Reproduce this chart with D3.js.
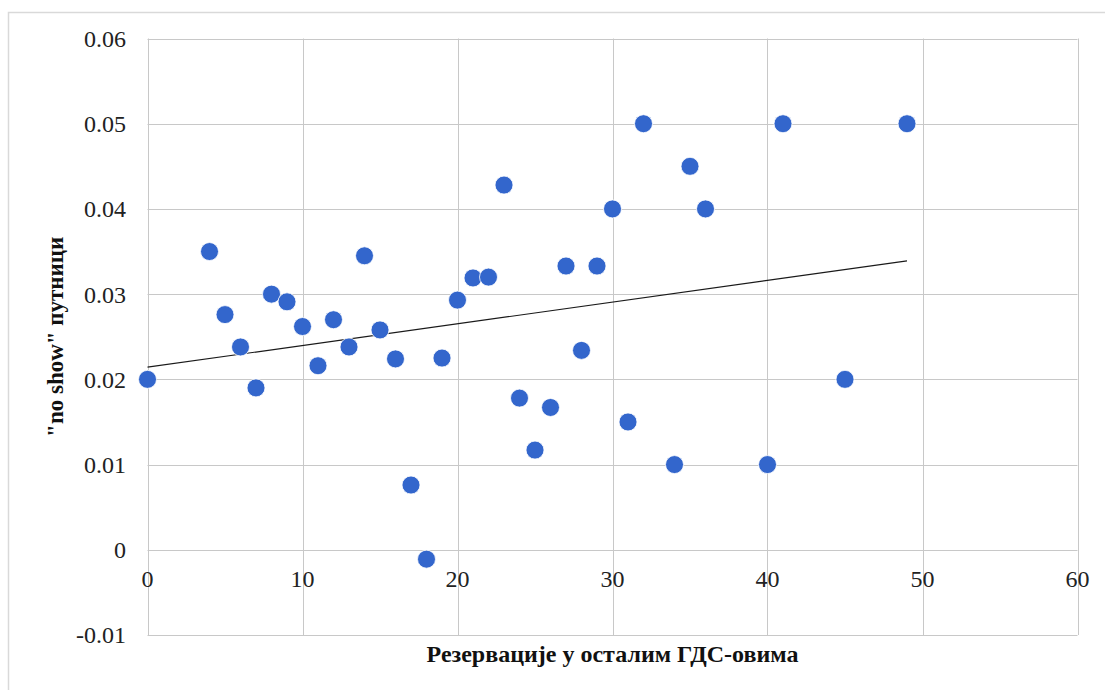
<!DOCTYPE html>
<html>
<head>
<meta charset="utf-8">
<script src="https://cdn.jsdelivr.net/npm/d3@7"></script>
<style>
  html, body { margin: 0; padding: 0; background: #fff; }
  svg { display: block; }
</style>
</head>
<body>
<svg id="chart" width="1105" height="690"></svg>
<script>
// Reservations in other GDS systems vs. share of "no show" passengers
const reservations = [0, 4, 5, 6, 7, 8, 9, 10, 11, 12, 13, 14, 15, 16, 17, 18, 19, 20, 21, 22,
  23, 24, 25, 26, 27, 28, 29, 30, 31, 32, 34, 35, 36, 40, 41, 45, 49];
const noShow = [0.0200, 0.0350, 0.0276, 0.0238, 0.0190, 0.0300, 0.0291, 0.0262, 0.0216, 0.0270,
  0.0238, 0.0345, 0.0258, 0.0224, 0.0076, -0.0011, 0.0225, 0.0293, 0.0319, 0.0320,
  0.0428, 0.0178, 0.0117, 0.0167, 0.0333, 0.0234, 0.0333, 0.0400, 0.0150, 0.0500,
  0.0100, 0.0450, 0.0400, 0.0100, 0.0500, 0.0200, 0.0500];
const xTicks = [0, 10, 20, 30, 40, 50, 60];
const yTicks = [-0.01, 0, 0.01, 0.02, 0.03, 0.04, 0.05, 0.06];
const yTickLabels = ["-0.01", "0", "0.01", "0.02", "0.03", "0.04", "0.05", "0.06"];
const xTitle = "Резервације у осталим ГДС-овима";
const yTitle = '"no show" путници';

const svg = d3.select("#chart");
const plot = { left: 147.5, right: 1077.5, top: 38.5, bottom: 635 };

const x = d3.scaleLinear().domain([0, 60]).range([plot.left, plot.right]);
const y = d3.scaleLinear().domain([-0.01, 0.06]).range([plot.bottom, plot.top]);

// chart frame
svg.append("rect")
  .attr("x", 8.5).attr("y", 12.5).attr("width", 1110).attr("height", 700)
  .attr("fill", "#fff").attr("stroke", "#d9d9d9").attr("stroke-width", 1.5);

const gridColor = "#c8c8c8";

// horizontal grid lines
svg.append("g").selectAll("line").data(yTicks).join("line")
  .attr("x1", plot.left).attr("x2", plot.right)
  .attr("y1", d => Math.round(y(d)) + 0.5).attr("y2", d => Math.round(y(d)) + 0.5)
  .attr("stroke", gridColor).attr("stroke-width", 1);

// vertical grid lines
svg.append("g").selectAll("line").data(xTicks).join("line")
  .attr("y1", plot.top).attr("y2", plot.bottom)
  .attr("x1", d => Math.round(x(d)) + 0.5).attr("x2", d => Math.round(x(d)) + 0.5)
  .attr("stroke", gridColor).attr("stroke-width", 1);

const tickFont = "'Liberation Serif', 'Times New Roman', serif";

// y tick labels
svg.append("g").selectAll("text").data(yTicks).join("text")
  .attr("x", 126).attr("y", d => y(d))
  .attr("dy", "0.35em")
  .attr("text-anchor", "end")
  .attr("font-family", tickFont).attr("font-size", 24).attr("fill", "#222")
  .text((d, i) => yTickLabels[i]);

// x tick labels sit just below the zero line
svg.append("g").selectAll("text").data(xTicks).join("text")
  .attr("x", d => x(d)).attr("y", y(0) + 37)
  .attr("text-anchor", "middle")
  .attr("font-family", tickFont).attr("font-size", 24).attr("fill", "#222")
  .text(d => d);

// least-squares trend line
const n = reservations.length;
const mx = d3.mean(reservations), my = d3.mean(noShow);
let sxy = 0, sxx = 0;
for (let i = 0; i < n; i++) {
  sxy += (reservations[i] - mx) * (noShow[i] - my);
  sxx += (reservations[i] - mx) ** 2;
}
const slope = sxy / sxx, intercept = my - slope * mx;
const xExtent = d3.extent(reservations);
svg.append("line")
  .attr("x1", x(xExtent[0])).attr("y1", y(intercept + slope * xExtent[0]))
  .attr("x2", x(xExtent[1])).attr("y2", y(intercept + slope * xExtent[1]))
  .attr("stroke", "#1a1a1a").attr("stroke-width", 1.2);

// data points
svg.append("g").selectAll("circle").data(reservations).join("circle")
  .attr("cx", d => x(d))
  .attr("cy", (d, i) => y(noShow[i]))
  .attr("r", 9)
  .attr("fill", "#3366cc")
  .attr("stroke", "#ffffff").attr("stroke-width", 0.8);

// axis titles
svg.append("text")
  .attr("x", (plot.left + plot.right) / 2).attr("y", 662)
  .attr("text-anchor", "middle")
  .attr("font-family", tickFont).attr("font-size", 24).attr("font-weight", "bold")
  .attr("fill", "#111")
  .text(xTitle);

svg.append("text")
  .attr("transform", `translate(63, ${(plot.top + plot.bottom) / 2}) rotate(-90)`)
  .attr("text-anchor", "middle")
  .attr("font-family", tickFont).attr("font-size", 23).attr("font-weight", "bold")
  .attr("fill", "#111")
  .text(yTitle);
</script>
</body>
</html>
